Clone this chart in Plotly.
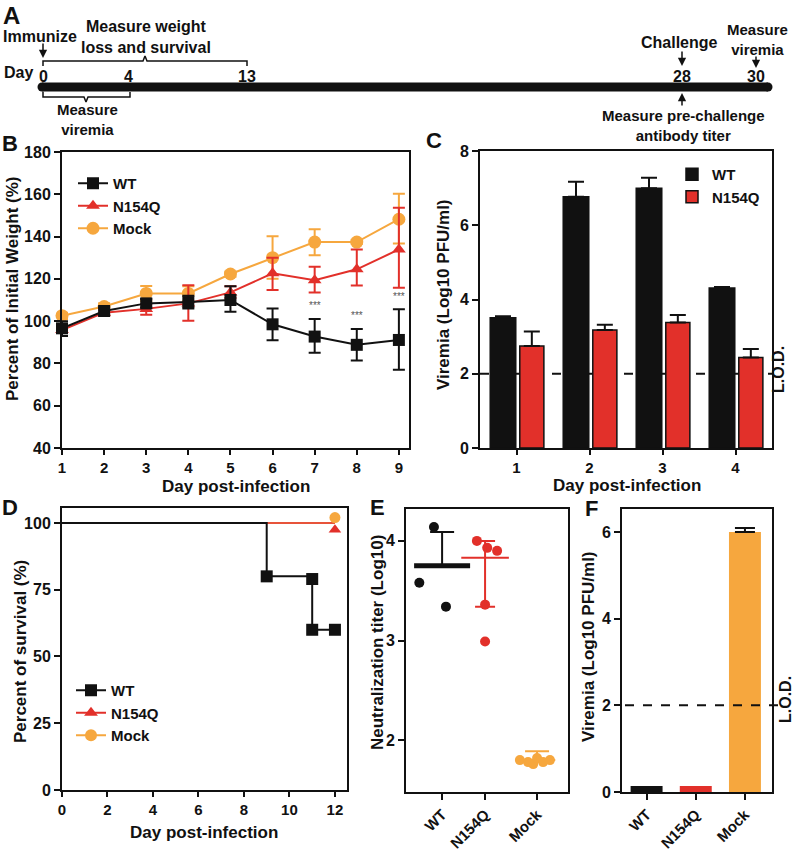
import plotly.graph_objects as go

W, H = 800, 861

# ---------------- data ----------------
# Panel A: timeline labels
timeline_days = ["0", "4", "13", "28", "30"]

# Panel B: body weight (% of initial)
weight_days = [1, 2, 3, 4, 5, 6, 7, 8, 9]
wt_weight = [96.6, 104.8, 108.4, 109.0, 110.0, 98.5, 92.7, 88.8, 91.1]
wt_weight_hi = [100.0, 106.5, 110.5, 112.0, 116.5, 106.0, 101.0, 96.3, 105.6]
wt_weight_lo = [93.0, 103.0, 106.5, 106.0, 104.5, 91.0, 85.0, 81.4, 77.0]
n154q_weight = [95.8, 104.0, 105.8, 108.4, 113.6, 122.6, 119.4, 124.5, 133.9]
n154q_weight_hi = [98.5, 105.5, 108.0, 117.0, 116.5, 130.0, 125.7, 133.9, 153.6]
n154q_weight_lo = [93.0, 102.5, 103.0, 100.2, 111.0, 114.7, 113.5, 116.8, 115.8]
mock_weight = [102.6, 106.9, 113.1, 113.1, 122.3, 130.0, 137.4, 137.4, 148.2]
mock_weight_hi = [104.0, 108.5, 116.6, 116.5, 123.5, 140.2, 143.5, 138.5, 160.3]
mock_weight_lo = [101.0, 105.5, 109.5, 109.5, 121.0, 120.0, 131.2, 136.5, 136.7]
sig_days = [7, 8, 9]
sig_y = [103.7, 99.3, 108.0]

# Panel C: viremia by day
viremia_days = [1, 2, 3, 4]
wt_viremia = [3.51, 6.77, 7.00, 4.31]
wt_viremia_err = [0.04, 0.40, 0.28, 0.03]
n154q_viremia = [2.75, 3.18, 3.38, 2.44]
n154q_viremia_err = [0.39, 0.14, 0.20, 0.23]
LOD = 2

# Panel D: survival
surv_wt_days = [0, 9, 11, 12]
surv_wt = [100, 80, 60, 60]
surv_wt_mark_days = [9, 11, 11, 12]
surv_wt_mark = [80, 79, 60, 60]
surv_line_days = [0, 12]
surv_n154q = [100, 100]
surv_mock = [100, 100]
surv_end_day = [12]
surv_n154q_mark = [97.5]
surv_mock_mark = [102]

# Panel E: neutralization titer
titer_groups = ["WT", "N154Q", "Mock"]
wt_titer = [4.14, 3.58, 3.34]
wt_titer_center, wt_titer_hi = 3.75, 4.09
n154q_titer = [4.00, 3.93, 3.90, 3.36, 2.99]
n154q_titer_center, n154q_titer_hi, n154q_titer_lo = 3.83, 4.00, 3.34
mock_titer = [1.80, 1.78, 1.76, 1.82, 1.78, 1.80]
mock_titer_center, mock_titer_hi = 1.80, 1.89

# Panel F: post-challenge viremia
f_groups = ["WT", "N154Q", "Mock"]
f_viremia = [0.14, 0.14, 6.00]
f_viremia_err = [0.0, 0.0, 0.09]

# ---------------- style ----------------
BLACK = "#111111"
RED = "#e2302a"
ORANGE = "#f6a73e"
FONT = "Liberation Sans, Arial, sans-serif"

# layout positions (pixels)
tl_x = [43, 128, 247, 682, 756]          # x position of each timeline label
e_pos = [0, 1, 2.21]                        # category positions in panel E
wt_jit = [-0.19, -0.53, 0.09]
n154q_jit = [-0.19, 0.05, 0.28, 0.0, 0.0]
mock_jit = [-0.40, -0.21, -0.09, 0.0, 0.14, 0.30]


def fx(x0, x1):
    return [x0 / W, x1 / W]


def fy(top, bottom):
    return [1 - bottom / H, 1 - top / H]


def ax_style(**kw):
    d = dict(showline=True, mirror=True, linecolor=BLACK, linewidth=2,
             ticks="outside", ticklen=6, tickwidth=2, tickcolor=BLACK,
             showgrid=False, zeroline=False, automargin=False,
             tickfont=dict(family=FONT, size=16, color=BLACK, weight="bold"))
    d.update(kw)
    return d


XT = dict(family=FONT, size=15, color=BLACK, weight="bold")

fig = go.Figure()

# ---------------- Panel A (pixel axis x/y) ----------------
fig.add_trace(go.Scatter(x=[tl_x[0] - 1, 768], y=[87, 87], mode="lines+markers",
                         line=dict(color=BLACK, width=9),
                         marker=dict(size=9, color=BLACK), showlegend=False,
                         xaxis="x", yaxis="y", hoverinfo="skip"))
fig.add_trace(go.Scatter(x=[tl_x[0], tl_x[0], 143, 145, 147, tl_x[2], tl_x[2]],
                         y=[66, 61, 61, 56, 61, 61, 66], mode="lines",
                         line=dict(color=BLACK, width=1.5), showlegend=False,
                         xaxis="x", yaxis="y", hoverinfo="skip"))
fig.add_trace(go.Scatter(x=[tl_x[0], tl_x[0], 84, 86, 88, 130, 130],
                         y=[92, 97, 97, 102, 97, 97, 92], mode="lines",
                         line=dict(color=BLACK, width=1.5), showlegend=False,
                         xaxis="x", yaxis="y", hoverinfo="skip"))

ann = []


def txt(x, y, s, size=16, angle=0, color=BLACK, xanchor="center"):
    ann.append(dict(x=x, y=y, xref="x", yref="y", text=s, showarrow=False,
                    textangle=angle, xanchor=xanchor, yanchor="middle",
                    font=dict(family=FONT, size=size, color=color, weight="bold")))


def arrow(x, y0, y1):
    ann.append(dict(x=x, y=y1, ax=x, ay=y0, xref="x", yref="y", axref="x", ayref="y",
                    text="", showarrow=True, arrowhead=2, arrowsize=1.1,
                    arrowwidth=1.5, arrowcolor=BLACK, standoff=0))


txt(11, 15, "A", 24)
txt(40, 36, "Immunize")
txt(146, 37, "Measure weight<br>loss and survival")
txt(18, 72, "Day")
for xx, lab in zip(tl_x, timeline_days):
    txt(xx, 76, lab)
txt(87, 119, "Measure<br>viremia", 15)
txt(679, 42, "Challenge")
txt(757, 39, "Measure<br>viremia", 15)
txt(683, 125, "Measure pre-challenge<br>antibody titer", 15)
arrow(tl_x[0], 42, 58)
arrow(tl_x[3], 50, 66)
arrow(tl_x[4], 55, 68)
arrow(tl_x[3], 107, 93)

# ---------------- Panel B ----------------
def werr(v, hi, lo):
    return dict(type="data", symmetric=False,
                array=[h - a for h, a in zip(hi, v)],
                arrayminus=[a - l for a, l in zip(v, lo)],
                thickness=2, width=6)


eb = werr(mock_weight, mock_weight_hi, mock_weight_lo); eb["color"] = ORANGE
fig.add_trace(go.Scatter(x=weight_days, y=mock_weight, name="Mock", mode="lines+markers",
                         line=dict(color=ORANGE, width=2), marker=dict(symbol="circle", size=13, color=ORANGE),
                         error_y=eb, xaxis="x2", yaxis="y2", legend="legend", cliponaxis=False))
eb = werr(n154q_weight, n154q_weight_hi, n154q_weight_lo); eb["color"] = RED
fig.add_trace(go.Scatter(x=weight_days, y=n154q_weight, name="N154Q", mode="lines+markers",
                         line=dict(color=RED, width=2), marker=dict(symbol="triangle-up", size=12, color=RED),
                         error_y=eb, xaxis="x2", yaxis="y2", legend="legend", cliponaxis=False))
eb = werr(wt_weight, wt_weight_hi, wt_weight_lo); eb["color"] = BLACK
fig.add_trace(go.Scatter(x=weight_days, y=wt_weight, name="WT", mode="lines+markers",
                         line=dict(color=BLACK, width=2), marker=dict(symbol="square", size=12, color=BLACK),
                         error_y=eb, xaxis="x2", yaxis="y2", legend="legend", cliponaxis=False))
for d, s in zip(sig_days, sig_y):
    ann.append(dict(x=d, y=s, xref="x2", yref="y2", text="***", showarrow=False,
                    yanchor="bottom", font=dict(family=FONT, size=10, color="#555555")))

# ---------------- Panel C ----------------
fig.add_trace(go.Bar(x=viremia_days, y=wt_viremia, name="WT", width=0.35, offset=-0.36,
                     marker=dict(color=BLACK, line=dict(color=BLACK, width=1.5)),
                     error_y=dict(type="data", symmetric=False, array=wt_viremia_err,
                                  arrayminus=[0] * 4, color=BLACK, thickness=2, width=8),
                     xaxis="x3", yaxis="y3", legend="legend2"))
fig.add_trace(go.Bar(x=viremia_days, y=n154q_viremia, name="N154Q", width=0.33, offset=0.045,
                     marker=dict(color=RED, line=dict(color=BLACK, width=1.5)),
                     error_y=dict(type="data", symmetric=False, array=n154q_viremia_err,
                                  arrayminus=[0] * 4, color=BLACK, thickness=2, width=8),
                     xaxis="x3", yaxis="y3", legend="legend2"))

# ---------------- Panel D ----------------
fig.add_trace(go.Scatter(x=surv_line_days, y=surv_mock, mode="lines", line=dict(color=ORANGE, width=1.5),
                         showlegend=False, xaxis="x4", yaxis="y4", cliponaxis=False))
fig.add_trace(go.Scatter(x=surv_line_days, y=surv_n154q, mode="lines", line=dict(color=RED, width=1.5),
                         showlegend=False, xaxis="x4", yaxis="y4", cliponaxis=False))
fig.add_trace(go.Scatter(x=surv_wt_days, y=surv_wt, mode="lines", line=dict(color=BLACK, width=2, shape="hv"),
                         showlegend=False, xaxis="x4", yaxis="y4", cliponaxis=False))
fig.add_trace(go.Scatter(x=surv_wt_mark_days, y=surv_wt_mark, mode="markers",
                         marker=dict(symbol="square", size=12, color=BLACK),
                         showlegend=False, xaxis="x4", yaxis="y4", cliponaxis=False))
fig.add_trace(go.Scatter(x=surv_end_day, y=surv_n154q_mark, mode="markers",
                         marker=dict(symbol="triangle-up", size=11, color=RED),
                         showlegend=False, xaxis="x4", yaxis="y4", cliponaxis=False))
fig.add_trace(go.Scatter(x=surv_end_day, y=surv_mock_mark, mode="markers",
                         marker=dict(symbol="circle", size=11, color=ORANGE),
                         showlegend=False, xaxis="x4", yaxis="y4", cliponaxis=False))
for nm, col, sym in [("WT", BLACK, "square"), ("N154Q", RED, "triangle-up"), ("Mock", ORANGE, "circle")]:
    fig.add_trace(go.Scatter(x=[None], y=[None], name=nm, mode="lines+markers",
                             line=dict(color=col, width=2), marker=dict(symbol=sym, size=12, color=col),
                             xaxis="x4", yaxis="y4", legend="legend3"))

# ---------------- Panel E ----------------
for vals, jit, pos, col in [(wt_titer, wt_jit, e_pos[0], BLACK),
                            (n154q_titer, n154q_jit, e_pos[1], RED),
                            (mock_titer, mock_jit, e_pos[2], ORANGE)]:
    fig.add_trace(go.Scatter(x=[pos + j for j in jit], y=vals, mode="markers",
                             marker=dict(symbol="circle", size=10, color=col),
                             showlegend=False, xaxis="x5", yaxis="y5", cliponaxis=False))
fig.add_trace(go.Scatter(x=[e_pos[0]], y=[wt_titer_center], mode="markers",
                         marker=dict(symbol="line-ew", size=40, line=dict(color=BLACK, width=5)),
                         error_y=dict(type="data", symmetric=False, array=[wt_titer_hi - wt_titer_center],
                                      arrayminus=[0], color=BLACK, thickness=2, width=12),
                         showlegend=False, xaxis="x5", yaxis="y5"))
fig.add_trace(go.Scatter(x=[e_pos[1]], y=[n154q_titer_center], mode="markers",
                         marker=dict(symbol="line-ew", size=34, line=dict(color=RED, width=2)),
                         error_y=dict(type="data", symmetric=False, array=[n154q_titer_hi - n154q_titer_center],
                                      arrayminus=[n154q_titer_center - n154q_titer_lo],
                                      color=RED, thickness=2, width=10),
                         showlegend=False, xaxis="x5", yaxis="y5"))
fig.add_trace(go.Scatter(x=[e_pos[2]], y=[mock_titer_center], mode="markers",
                         marker=dict(symbol="line-ew", size=26, line=dict(color=ORANGE, width=2)),
                         error_y=dict(type="data", symmetric=False, array=[mock_titer_hi - mock_titer_center],
                                      arrayminus=[0], color=ORANGE, thickness=2, width=12),
                         showlegend=False, xaxis="x5", yaxis="y5"))

# ---------------- Panel F ----------------
for i, (g, col) in enumerate(zip(f_groups, [BLACK, RED, ORANGE])):
    kw = {}
    if f_viremia_err[i] > 0:
        kw["error_y"] = dict(type="data", symmetric=False, array=[f_viremia_err[i]], arrayminus=[0],
                             color=BLACK, thickness=2, width=10)
    fig.add_trace(go.Bar(x=[i], y=[f_viremia[i]], width=0.65, marker=dict(color=col, line=dict(width=0)),
                         showlegend=False, xaxis="x6", yaxis="y6", **kw))

# ---------------- text for panels ----------------
txt(10, 143, "B", 22)
txt(434, 140, "C", 22)
txt(10, 507, "D", 22)
txt(377, 507, "E", 22)
txt(591, 508, "F", 22)
txt(12, 289, "Percent of Initial Weight (%)", 17, -90)
txt(236, 486, "Day post-infection", 17)
txt(443, 295, "Viremia (Log10 PFU/ml)", 17, -90)
txt(627, 485, "Day post-infection", 17)
txt(778, 370, "L.O.D.", 16, -90)
txt(20, 652, "Percent of survival (%)", 17, -90)
txt(204, 832, "Day post-infection", 17)
txt(377, 643, "Neutralization titer (Log10)", 17, -90)
txt(588, 647, "Viremia (Log10 PFU/ml)", 17, -90)
txt(785, 700, "L.O.D.", 16, -90)

shapes = [
    dict(type="line", xref="x3 domain", yref="y3", x0=0, x1=1, y0=LOD, y1=LOD,
         line=dict(color=BLACK, width=2, dash="dash"), layer="below"),
    dict(type="line", xref="x6 domain", yref="y6", x0=0.02, x1=1.06, y0=LOD, y1=LOD,
         line=dict(color=BLACK, width=2, dash="dash"), layer="above"),
]

leg_font = dict(family=FONT, size=15, color=BLACK, weight="bold")
fig.update_layout(
    width=W, height=H, autosize=False, margin=dict(l=0, r=0, t=0, b=0, pad=0),
    paper_bgcolor="white", plot_bgcolor="rgba(0,0,0,0)",
    font=dict(family=FONT, color=BLACK),
    barmode="overlay",
    xaxis=dict(domain=[0, 1], range=[0, W], visible=False, fixedrange=True),
    yaxis=dict(domain=[0, 1], range=[H, 0], visible=False, fixedrange=True),
    xaxis2=ax_style(domain=fx(62, 409), anchor="y2", range=[1, 9.24], tickvals=weight_days,
                    tickfont=XT, ticklen=5),
    yaxis2=ax_style(domain=fy(152, 448), anchor="x2", range=[40, 180], dtick=20),
    xaxis3=ax_style(domain=fx(480, 772), anchor="y3", range=[0.5, 4.5], tickvals=viremia_days,
                    tickfont=XT, ticklen=5),
    yaxis3=ax_style(domain=fy(151, 448), anchor="x3", range=[0, 8], dtick=2),
    xaxis4=ax_style(domain=fx(62, 347), anchor="y4", range=[0, 12.53], dtick=2, tickfont=XT, ticklen=5),
    yaxis4=ax_style(domain=fy(508, 790), anchor="x4", range=[0, 105.6], tickvals=[0, 25, 50, 75, 100]),
    xaxis5=ax_style(domain=fx(406, 568), anchor="y5", range=[-0.84, 2.93], tickvals=e_pos,
                    ticktext=titer_groups, tickangle=-45, tickfont=XT),
    yaxis5=ax_style(domain=fy(509, 792), anchor="x5", range=[1.48, 4.32], tickvals=[2, 3, 4]),
    xaxis6=ax_style(domain=fx(622, 772), anchor="y6", range=[-0.5, 2.55], tickvals=[0, 1, 2],
                    ticktext=f_groups, tickangle=-45, tickfont=XT),
    yaxis6=ax_style(domain=fy(509, 792), anchor="x6", range=[0, 6.53], tickvals=[0, 2, 4, 6]),
    legend=dict(x=73 / W, y=1 - 167 / H, xanchor="left", yanchor="top", traceorder="reversed",
                font=leg_font, bgcolor="rgba(0,0,0,0)", itemwidth=30, tracegroupgap=0),
    legend2=dict(x=672 / W, y=1 - 158 / H, xanchor="left", yanchor="top", traceorder="normal",
                 font=leg_font, bgcolor="rgba(0,0,0,0)", itemwidth=30),
    legend3=dict(x=71 / W, y=1 - 674 / H, xanchor="left", yanchor="top", traceorder="normal",
                 font=leg_font, bgcolor="rgba(0,0,0,0)", itemwidth=30),
    annotations=ann,
    shapes=shapes,
)

fig.write_html("out.html", config={"responsive": False, "displayModeBar": False},
               post_script="document.body.style.margin='0';document.body.style.overflow='hidden';")
